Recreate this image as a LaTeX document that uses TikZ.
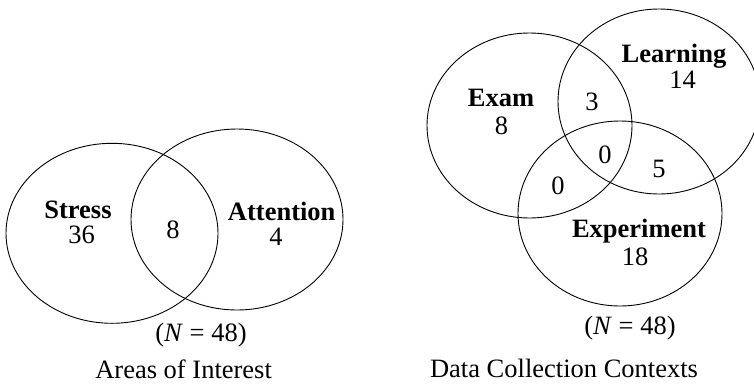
\documentclass[tikz,border=0pt]{standalone}
\usepackage{fontspec}
\setmainfont{Liberation Serif}
\usetikzlibrary{shapes.geometric}
\begin{document}
\begin{tikzpicture}[x=1pt,y=-1pt,
  venn/.style={draw, ellipse, line width=0.9pt, inner sep=0pt},
  lbl/.style={anchor=base, inner sep=0pt, font=\fontsize{26.5}{28}\selectfont\bfseries},
  num/.style={anchor=base, inner sep=0pt, font=\fontsize{26.5}{28}\selectfont},
]
\useasboundingbox (0,0) rectangle (754,383);
\clip (0,0) rectangle (754,383);
% left diagram
\node[venn, minimum width=212pt, minimum height=180pt] (stress) at (112,233.3) {};
\node[venn, minimum width=212pt, minimum height=181pt] (attention) at (237,219.5) {};
\node[lbl] (tstress) at (78,218) {Stress};
\node[num] (nstress) at (81.5,243.5) {36};
\node[num] (nsa) at (173,238.5) {8};
\node[lbl] (tatt) at (281.7,220.5) {Attention};
\node[num] (natt) at (276,245.5) {4};
\node[num] (nleft) at (201,341) {(\textit{N} = 48)};
\node[num] (capleft) at (183.6,378) {Areas of Interest};
% right diagram
\node[venn, minimum width=205pt, minimum height=185pt] (exam) at (529.5,125.5) {};
\node[venn, minimum width=202pt, minimum height=185pt] (learning) at (659,101.5) {};
\node[venn, minimum width=204pt, minimum height=185pt] (experiment) at (620,213.5) {};
\node[lbl] (texam) at (501,106.7) {Exam};
\node[num] (nexam) at (501.5,134.3) {8};
\node[lbl] (tlearn) at (674,62.5) {Learning};
\node[num] (nlearn) at (682.5,88.3) {14};
\node[num] (nel) at (592,110) {3};
\node[num] (nall) at (605,163.3) {0};
\node[num] (nle) at (659,177.3) {5};
\node[num] (nee) at (558,194) {0};
\node[lbl] (texp) at (639,237.3) {Experiment};
\node[num] (nexp) at (635,265) {18};
\node[num] (nright) at (630,334) {(\textit{N} = 48)};
\node[num] (capright) at (564,377.5) {Data Collection Contexts};
\end{tikzpicture}
\end{document}
